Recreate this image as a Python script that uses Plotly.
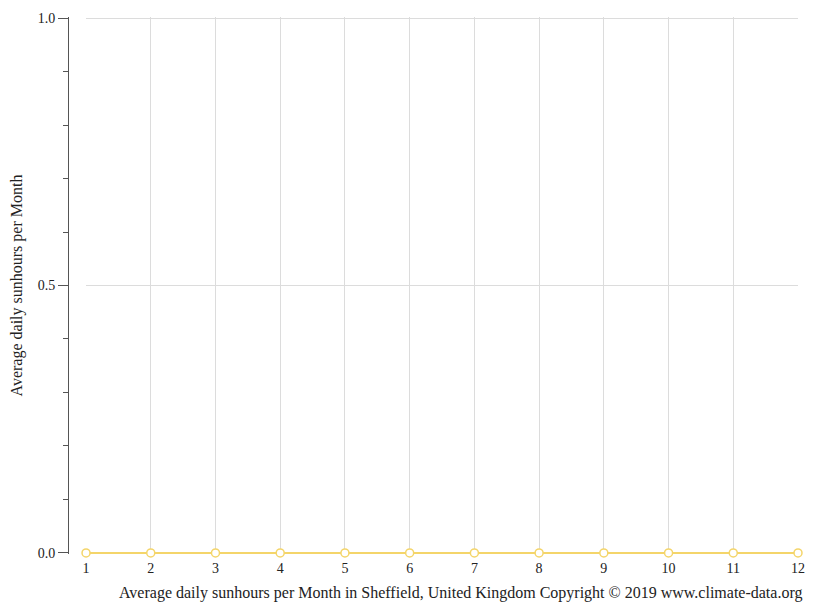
import plotly.graph_objects as go

months = [1, 2, 3, 4, 5, 6, 7, 8, 9, 10, 11, 12]
sunhours = [0, 0, 0, 0, 0, 0, 0, 0, 0, 0, 0, 0]
y_ticks = [0.0, 0.5, 1.0]
y_tick_labels = ["0.0", "0.5", "1.0"]

font_family = "Liberation Serif"
line_color = "#f4d56a"
grid_color = "#dcdcdc"

fig = go.Figure(
    go.Scatter(
        x=months,
        y=sunhours,
        mode="lines+markers",
        line=dict(color=line_color, width=2),
        marker=dict(
            symbol="circle",
            size=8,
            color="white",
            line=dict(color=line_color, width=1.5),
        ),
        cliponaxis=False,
        showlegend=False,
    )
)

# the page body adds 8px, so the figure is a bit smaller than the window
fig.update_layout(
    width=807,
    height=603,
    plot_bgcolor="white",
    paper_bgcolor="white",
    font=dict(family=font_family, size=13, color="#222"),
    margin=dict(l=60, r=17, t=9, b=57),
    xaxis=dict(
        domain=[0.0247, 1],
        range=[1, 12],
        tickvals=months,
        showgrid=True,
        gridcolor=grid_color,
        gridwidth=1,
        zeroline=False,
        showline=False,
        ticks="",
        ticklabelstandoff=4,
        tickfont=dict(size=14),
        automargin=False,
    ),
    yaxis=dict(
        anchor="free",
        position=0,
        range=[-0.002, 1.002],
        tickvals=y_ticks,
        ticktext=y_tick_labels,
        showgrid=True,
        gridcolor=grid_color,
        zeroline=False,
        showline=True,
        linecolor="#555",
        linewidth=1,
        ticks="outside",
        ticklen=10,
        tickcolor="#555",
        tickfont=dict(size=14),
        minor=dict(dtick=0.1, tick0=0, ticks="outside", ticklen=5, tickcolor="#555", showgrid=False),
        automargin=False,
        title=dict(
            text="Average daily sunhours per Month",
            font=dict(size=16),
            standoff=10,
        ),
    ),
    annotations=[
        dict(
            text="Average daily sunhours per Month in Sheffield, United Kingdom Copyright © 2019 www.climate-data.org",
            xref="paper",
            yref="paper",
            x=1,
            y=0,
            xanchor="right",
            yanchor="top",
            xshift=6,
            yshift=-28,
            showarrow=False,
            font=dict(size=16, family=font_family, color="#222"),
        )
    ],
)

fig.write_html("out.html")
